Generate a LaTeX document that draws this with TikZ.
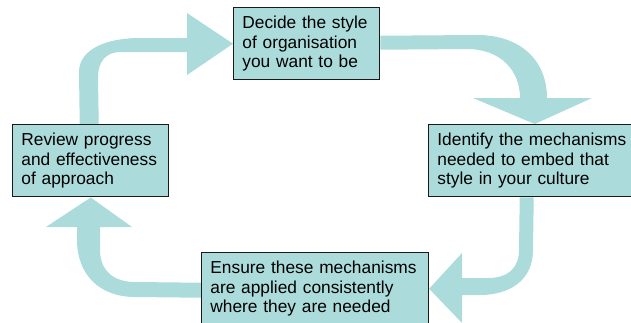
\documentclass[tikz,border=0pt]{standalone}
\usepackage{fontspec}
\setmainfont{Liberation Sans}
\usetikzlibrary{calc,backgrounds}
\definecolor{CycleTeal}{HTML}{ABDCDB}
\definecolor{CycleEdge}{HTML}{1A1A1A}
\tikzset{
  stage/.style={draw=CycleEdge, line width=1.1pt, fill=CycleTeal, anchor=north west,
    align=left, inner xsep=6.5pt, inner ysep=0pt, minimum height=54pt,
    font=\fontsize{13}{14.6}\selectfont},
  flow/.style={fill=CycleTeal}
}

\begin{document}
\begin{tikzpicture}[x=0.75pt, y=-0.75pt]
  \useasboundingbox (0,0) rectangle (631,322);
  \node[stage, text width=96.5pt] (decide) at (233,7) {Decide the style\\of organisation\\you want to be};
  \node[stage, text width=146pt] (identify) at (428,124) {Identify the mechanisms\\needed to embed that\\style in your culture};
  \node[stage, text width=157pt] (ensure) at (201,252) {Ensure these mechanisms\\are applied consistently\\where they are needed};
  \node[stage, text width=104pt] (review) at (12,124) {Review progress\\and effectiveness\\of approach};
  \begin{scope}[on background layer]
    % review -> decide
    \fill[flow] ($(review.north)+(-11,0)$) -- (79,72) .. controls (79,50) and (105,38) .. (140,38)
      -- (187,38) -- (187,13) -- (decide.west) -- (187,75) -- (187,52) -- (120,52)
      .. controls (106,52) and (98,62) .. (98,77) -- ($(review.north)+(8,0)$) -- cycle;
    % decide -> identify
    \fill[flow] ($(decide.east)+(0,-8)$) -- (477,35) .. controls (520,35) and (547,60) .. (547,98)
      -- (592,98) -- (identify.north) -- (473,98) -- (520,98)
      .. controls (520,70) and (500,49) .. (467,49) -- ($(decide.east)+(0,6)$) -- cycle;
    % identify -> ensure
    \fill[flow] ($(identify.south)+(-15,0)$) -- ($(identify.south)+(-1,0)$) -- (533,250)
      .. controls (533,280) and (510,295) .. (480,295) -- (462,295) -- (462,323)
      -- (ensure.east) -- (462,253) -- (462,278) -- (488,278)
      .. controls (508,278) and (519,268) .. (519,250) -- cycle;
    % ensure -> review
    \fill[flow] ($(ensure.west)+(0,-6)$) -- (135,282) .. controls (113,282) and (100,270) .. (100,250)
      -- (100,227) -- (132,227) -- (review.south) -- (46,227) -- (77,227) -- (77,240)
      .. controls (77,275) and (100,297) .. (135,297) -- ($(ensure.west)+(0,9)$) -- cycle;
  \end{scope}
\end{tikzpicture}
\end{document}
